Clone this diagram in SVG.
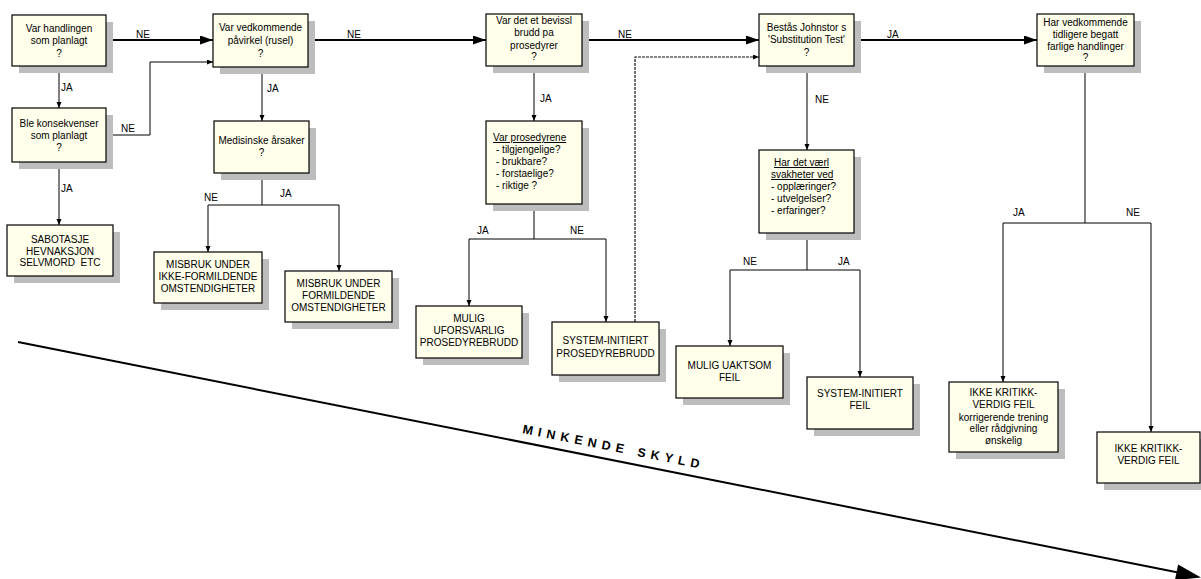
<svg xmlns="http://www.w3.org/2000/svg" width="1201" height="579" viewBox="0 0 1201 579">
<defs>
<style>
.box{fill:#FFFFEB;stroke:#000;stroke-width:1.2}
.sh{fill:#BDBDBD}
.t{font-family:"Liberation Sans",Arial,sans-serif;font-size:10px;fill:#000;text-anchor:middle}
.tl{font-family:"Liberation Sans",Arial,sans-serif;font-size:10px;fill:#000}
.lbl{font-family:"Liberation Sans",Arial,sans-serif;font-size:10px;fill:#000}
.c{fill:none;stroke:#000;stroke-width:1}
.ct{fill:none;stroke:#000;stroke-width:2}
.cd{fill:none;stroke:#111;stroke-width:1.2;stroke-dasharray:3,1}
</style>
<marker id="big" markerUnits="userSpaceOnUse" markerWidth="14" markerHeight="10" refX="13" refY="4.5" orient="auto"><path d="M0,0 L13,4.5 L0,9 z" fill="#000"/></marker>
<marker id="sm" markerUnits="userSpaceOnUse" markerWidth="8" markerHeight="6" refX="6" refY="2.5" orient="auto"><path d="M0,0 L6,2.5 L0,5 z" fill="#000"/></marker>
</defs>
<rect width="1201" height="579" fill="#fff"/>

<g id="connectors">
<path class="ct" d="M106,40 H213" marker-end="url(#big)"/>
<path class="c" d="M59,66 V108" marker-end="url(#sm)"/>
<path class="c" d="M106,135 H150 V62 H213" marker-end="url(#sm)"/>
<path class="c" d="M59,162 V225" marker-end="url(#sm)"/>
<path class="c" d="M262,67 V121" marker-end="url(#sm)"/>
<path class="c" d="M262,173 V205 M208,205 H339"/>
<path class="c" d="M208,205 V252" marker-end="url(#sm)"/>
<path class="c" d="M339,205 V271" marker-end="url(#sm)"/>
<path class="ct" d="M308,40 H486" marker-end="url(#big)"/>
<path class="c" d="M534,66 V121" marker-end="url(#sm)"/>
<path class="c" d="M534,204 V239 M469,239 H606"/>
<path class="c" d="M469,239 V306" marker-end="url(#sm)"/>
<path class="c" d="M606,239 V322" marker-end="url(#sm)"/>
<path class="cd" d="M635,322 V57 H759" marker-end="url(#sm)"/>
<path class="ct" d="M582,40 H759" marker-end="url(#big)"/>
<path class="c" d="M807,66 V150" marker-end="url(#sm)"/>
<path class="c" d="M807,233 V270 M730,270 H860"/>
<path class="c" d="M730,270 V346" marker-end="url(#sm)"/>
<path class="c" d="M860,270 V377" marker-end="url(#sm)"/>
<path class="ct" d="M854,40 H1037" marker-end="url(#big)"/>
<path class="c" d="M1085,66 V223 M1003,223 H1151"/>
<path class="c" d="M1003,223 V382" marker-end="url(#sm)"/>
<path class="c" d="M1151,223 V432" marker-end="url(#sm)"/>
<text class="lbl" x="136" y="38">NE</text>
<text class="lbl" x="121" y="132">NE</text>
<text class="lbl" x="61" y="91">JA</text>
<text class="lbl" x="61" y="192">JA</text>
<text class="lbl" x="267" y="92">JA</text>
<text class="lbl" x="204" y="201">NE</text>
<text class="lbl" x="280" y="197">JA</text>
<text class="lbl" x="347" y="38">NE</text>
<text class="lbl" x="540" y="102">JA</text>
<text class="lbl" x="618" y="38">NE</text>
<text class="lbl" x="477" y="234">JA</text>
<text class="lbl" x="570" y="234">NE</text>
<text class="lbl" x="815" y="103">NE</text>
<text class="lbl" x="887" y="38">JA</text>
<text class="lbl" x="743" y="265">NE</text>
<text class="lbl" x="838" y="265">JA</text>
<text class="lbl" x="1013" y="216">JA</text>
<text class="lbl" x="1126" y="216">NE</text>
</g>

<g id="n1"><rect class="sh" x="19" y="22" width="94" height="51"/><rect class="box" x="12" y="15" width="94" height="51"/>
<text class="t" x="59" y="31.5">Var handlingen</text><text class="t" x="59" y="44">som planlagt</text><text class="t" x="59" y="56.5">?</text></g>
<g id="n2"><rect class="sh" x="19" y="115" width="94" height="54"/><rect class="box" x="12" y="108" width="94" height="54"/>
<text class="t" x="59" y="127">Ble konsekvenser</text><text class="t" x="59" y="139">som planlagt</text><text class="t" x="59" y="151">?</text></g>
<g id="n3"><rect class="sh" x="14" y="232" width="106" height="51"/><rect class="box" x="7" y="225" width="106" height="51"/>
<text class="t" x="60" y="243">SABOTASJE</text><text class="t" x="60" y="254.5">HEVNAKSJON</text><text class="t" x="60" y="266" xml:space="preserve">SELVMORD  ETC</text></g>
<g id="n4"><rect class="sh" x="220" y="21" width="95" height="53"/><rect class="box" x="213" y="14" width="95" height="53"/>
<text class="t" x="260.5" y="31">Var vedkommende</text><text class="t" x="260.5" y="44">påvirkel (rusel)</text><text class="t" x="260.5" y="57">?</text></g>
<g id="n5"><rect class="sh" x="221" y="128" width="95" height="52"/><rect class="box" x="214" y="121" width="95" height="52"/>
<text class="t" x="261.5" y="144">Medisinske årsaker</text><text class="t" x="261.5" y="156">?</text></g>
<g id="n6"><rect class="sh" x="161" y="259" width="108" height="51"/><rect class="box" x="154" y="252" width="108" height="51"/>
<text class="t" x="208" y="268">MISBRUK UNDER</text><text class="t" x="208" y="280">IKKE-FORMILDENDE</text><text class="t" x="208" y="292">OMSTENDIGHETER</text></g>
<g id="n7"><rect class="sh" x="292" y="278" width="107" height="51"/><rect class="box" x="285" y="271" width="107" height="51"/>
<text class="t" x="338.5" y="287">MISBRUK UNDER</text><text class="t" x="338.5" y="299">FORMILDENDE</text><text class="t" x="338.5" y="311">OMSTENDIGHETER</text></g>
<g id="n8"><rect class="sh" x="493" y="21" width="96" height="52"/><rect class="box" x="486" y="14" width="96" height="52"/>
<text class="t" x="534" y="24">Var det et bevissl</text><text class="t" x="534" y="36">brudd pa</text><text class="t" x="534" y="48.5">prosedyrer</text><text class="t" x="534" y="60">?</text></g>
<g id="n9"><rect class="sh" x="493" y="128" width="96" height="83"/><rect class="box" x="486" y="121" width="96" height="83"/>
<text class="tl" x="493" y="141" text-decoration="underline">Var prosedyrene</text><text class="tl" x="496" y="153">- tilgjengelige?</text><text class="tl" x="496" y="165">- brukbare?</text><text class="tl" x="496" y="177">- forstaelige?</text><text class="tl" x="496" y="189">- riktige ?</text></g>
<g id="n10"><rect class="sh" x="423" y="313" width="106" height="52"/><rect class="box" x="416" y="306" width="106" height="52"/>
<text class="t" x="469" y="322">MULIG</text><text class="t" x="469" y="334">UFORSVARLIG</text><text class="t" x="469" y="346">PROSEDYREBRUDD</text></g>
<g id="n11"><rect class="sh" x="559" y="329" width="107" height="53"/><rect class="box" x="552" y="322" width="107" height="53"/>
<text class="t" x="605.5" y="344">SYSTEM-INITIERT</text><text class="t" x="605.5" y="357">PROSEDYREBRUDD</text></g>
<g id="n12"><rect class="sh" x="766" y="21" width="95" height="52"/><rect class="box" x="759" y="14" width="95" height="52"/>
<text class="t" x="806.5" y="31">Bestås Johnstor s</text><text class="t" x="806.5" y="43">'Substitution Test'</text><text class="t" x="806.5" y="56">?</text></g>
<g id="n13"><rect class="sh" x="766" y="157" width="95" height="83"/><rect class="box" x="759" y="150" width="95" height="83"/>
<text class="tl" x="774" y="166" text-decoration="underline">Har det værl</text><text class="tl" x="771" y="178" text-decoration="underline">svakheter ved</text><text class="tl" x="771" y="190">- opplæringer?</text><text class="tl" x="771" y="202">- utvelgelser?</text><text class="tl" x="771" y="214">- erfaringer?</text></g>
<g id="n14"><rect class="sh" x="683" y="353" width="107" height="52"/><rect class="box" x="676" y="346" width="107" height="52"/>
<text class="t" x="729.5" y="369">MULIG UAKTSOM</text><text class="t" x="729.5" y="381">FEIL</text></g>
<g id="n15"><rect class="sh" x="814" y="384" width="106" height="52"/><rect class="box" x="807" y="377" width="106" height="52"/>
<text class="t" x="860" y="397">SYSTEM-INITIERT</text><text class="t" x="860" y="409">FEIL</text></g>
<g id="n16"><rect class="sh" x="1044" y="21" width="97" height="52"/><rect class="box" x="1037" y="14" width="97" height="52"/>
<text class="t" x="1085.5" y="25.5">Har vedkommende</text><text class="t" x="1085.5" y="37.5">tidligere begatt</text><text class="t" x="1085.5" y="49.5">farlige handlinger</text><text class="t" x="1085.5" y="61">?</text></g>
<g id="n17"><rect class="sh" x="956" y="389" width="109" height="70"/><rect class="box" x="949" y="382" width="109" height="70"/>
<text class="t" x="1003.5" y="396">IKKE KRITIKK-</text><text class="t" x="1003.5" y="408">VERDIG FEIL</text><text class="t" x="1003.5" y="420.5">korrigerende trening</text><text class="t" x="1003.5" y="432">eller rådgivning</text><text class="t" x="1003.5" y="444">ønskelig</text></g>
<g id="n18"><rect class="sh" x="1104" y="439" width="103" height="51"/><rect class="box" x="1097" y="432" width="103" height="51"/>
<text class="t" x="1148.5" y="452">IKKE KRITIKK-</text><text class="t" x="1148.5" y="464">VERDIG FEIL</text></g>

<g id="blame-axis">
<line x1="18" y1="342" x2="1177" y2="572.3" stroke="#000" stroke-width="2"/>
<polygon points="1201,577.5 1174.9,580.2 1178.1,564.5" fill="#000"/>
<text x="522" y="433" transform="rotate(11.3 522 433)" font-family="Liberation Sans,Arial,sans-serif" font-size="12.5" font-weight="bold" letter-spacing="5.2">MINKENDE SKYLD</text>
</g>
</svg>
